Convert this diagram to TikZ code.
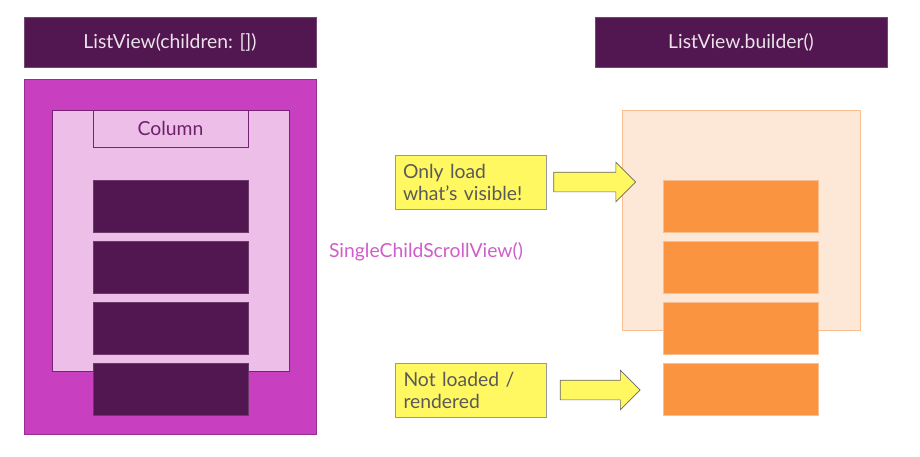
\documentclass[tikz,border=0pt]{standalone}
\usepackage{fontspec}
\setmainfont{Lato}
\usetikzlibrary{positioning,shapes.arrows}

\definecolor{plum}{HTML}{521650}
\definecolor{magentabg}{HTML}{C840C0}
\definecolor{pinkbg}{HTML}{ECBEE8}
\definecolor{peach}{HTML}{FDE7D6}
\definecolor{peachline}{HTML}{FBBF8F}
\definecolor{orangebar}{HTML}{FB9441}
\definecolor{notey}{HTML}{FFF861}
\definecolor{notetext}{HTML}{5A5A5A}

\tikzset{
  titlebox/.style={fill=plum,draw=plum!80!white,minimum width=5.84cm,minimum height=1cm,
    text=white!88!plum,font=\fontsize{11}{13}\selectfont},
  plumbar/.style={fill=plum,draw=plum!85!white,minimum width=3.1cm,minimum height=1.04cm},
  orangebox/.style={fill=orangebar,draw=peachline,minimum width=3.1cm,minimum height=1.04cm},
  notebox/.style={fill=notey,draw=gray!80,minimum width=3.02cm,minimum height=1.08cm,
    text width=2.7cm,align=left,text=notetext,font=\fontsize{11}{12.5}\selectfont},
  fatarrow/.style={single arrow,fill=notey,draw=gray!80!black,inner sep=0pt,
    minimum height=#1,single arrow head extend=0.2cm,text height=0.38cm},
}

\begin{document}
\begin{tikzpicture}
  \useasboundingbox (0,0) rectangle (18.4,-9.12);

  % left side: ListView(children: [])
  \node[titlebox] (titleL) at (3.4,-0.84) {ListView(children: [])};
  \node[fill=magentabg,draw=magentabg!75!black,minimum width=5.84cm,minimum height=7.1cm] (outerL) at (3.4,-5.13) {};
  \node[fill=pinkbg,draw=plum!70!magentabg,minimum width=4.74cm,minimum height=5.22cm] (innerL) at (3.41,-4.81) {};
  \node[fill=pinkbg,draw=plum!70!magentabg,minimum width=3.1cm,minimum height=0.74cm,
    text=plum!75!magentabg,font=\fontsize{11}{13}\selectfont] (column) at (3.41,-2.57) {Column};
  \foreach \n/\y in {1/-4.12,2/-5.34,3/-6.56,4/-7.78}{
    \node[plumbar] (barL\n) at (3.41,\y) {};
  }

  \node[text=magentabg!85!white,font=\fontsize{11}{13}\selectfont] (scroll) at (8.52,-5.04) {SingleChildScrollView()};

  % right side: ListView.builder()
  \node[titlebox] (titleR) at (14.82,-0.84) {ListView.builder()};
  \node[fill=peach,draw=peachline,minimum width=4.76cm,minimum height=4.4cm] (viewport) at (14.82,-4.4) {};
  \foreach \n/\y in {1/-4.12,2/-5.34,3/-6.56,4/-7.78}{
    \node[orangebox] (barR\n) at (14.81,\y) {};
  }

  % notes
  \node[notebox] (visible) at (9.41,-3.64) {Only load\\what's visible!};
  \node[notebox] (hidden) at (9.42,-7.8) {Not loaded /\\rendered};
  \node[fatarrow=1.64cm,right=0.14cm of visible] (arrVisible) {};
  \node[fatarrow=1.6cm,right=0.26cm of hidden] (arrHidden) {};
\end{tikzpicture}
\end{document}
